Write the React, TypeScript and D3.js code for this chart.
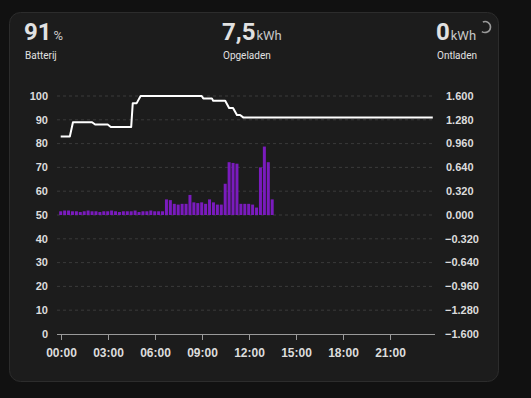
import React from 'react';
import * as d3 from 'd3';

// battery state of charge (%), sampled where the line changes
const socTimes = ['00:00', '00:35', '00:47', '02:00', '02:12', '03:00', '03:12', '04:30', '04:36', '04:51', '05:06', '09:00', '09:06', '09:39', '09:44', '10:30', '10:45', '11:00', '11:15', '11:27', '11:39', '23:45'];
const socValues = [83, 83, 89, 89, 88, 88, 87, 87, 97, 97, 100, 100, 99, 99, 98, 98, 95, 95, 92, 92, 91, 91];

// charged energy per 15 minutes (kWh), starting at 00:00
const energyValues = [
  0.05, 0.06, 0.06, 0.05, 0.05, 0.04, 0.05, 0.06, 0.05, 0.05, 0.04, 0.05, 0.05, 0.06,
  0.05, 0.04, 0.05, 0.05, 0.05, 0.06, 0.04, 0.05, 0.05, 0.06, 0.05, 0.05, 0.05,
  0.21, 0.2, 0.15, 0.14, 0.15, 0.15, 0.27, 0.17, 0.16, 0.17, 0.15, 0.21, 0.17, 0.14, 0.14,
  0.42, 0.71, 0.7, 0.69, 0.15, 0.15, 0.15, 0.14, 0.1, 0.64, 0.92, 0.71, 0.21,
];

const leftTicks = [0, 10, 20, 30, 40, 50, 60, 70, 80, 90, 100];
const rightTicks = [-1.6, -1.28, -0.96, -0.64, -0.32, 0, 0.32, 0.64, 0.96, 1.28, 1.6];
const hourTicks = [0, 3, 6, 9, 12, 15, 18, 21];

const toHours = (t: string) => {
  const [h, m] = t.split(':').map(Number);
  return h + m / 60;
};

const font = '"Liberation Sans", Arial, sans-serif';
const headFont = 'Roboto, "Noto Sans", sans-serif';
const labelColor = '#dcdcdc';

export default function App() {
  const W = 531, H = 398;
  const top = 96, bottom = 334;
  const x = d3.scaleLinear().domain([0, 24]).range([60.7, 436.7]);
  const yL = d3.scaleLinear().domain([0, 100]).range([bottom, top]);
  const yR = d3.scaleLinear().domain([-1.6, 1.6]).range([bottom, top]);

  const socPts: [number, number][] = socTimes.map((t, i) => [toHours(t), socValues[i]]);
  const line = d3.line<[number, number]>()
    .x(d => x(d[0]))
    .y(d => yL(d[1]));

  const barW = 3;
  const fmtR = d3.format('.3f');

  const arc = d3.arc()({ innerRadius: 5.5, outerRadius: 5.5, startAngle: -0.4, endAngle: Math.PI + 0.6 } as any) || '';

  return (
    <div style={{ position: 'fixed', left: 0, top: 0 }}>
      <svg width={W} height={H} style={{ display: 'block' }}>
        <rect width={W} height={H} fill="#111111" />
        <rect x={9.5} y={12.5} width={489} height={369} rx={11} fill="#1c1c1c" stroke="#2c2c2c" />

        {/* header */}
        <g fontFamily={headFont}>
          <text x={24} y={40} fill="#e1e1e1" fontSize={24} fontWeight={700}>91<tspan fontSize={13} fontWeight={400} fill="#c8c8c8" dx={2}>%</tspan></text>
          <text x={25} y={59} fill="#e1e1e1" fontSize={10}>Batterij</text>
          <text x={222} y={40} fill="#e1e1e1" fontSize={24} fontWeight={700}>7,5<tspan fontSize={13} fontWeight={400} fill="#c8c8c8" dx={1}>kWh</tspan></text>
          <text x={223} y={59} fill="#e1e1e1" fontSize={10}>Opgeladen</text>
          <text x={436} y={40} fill="#e1e1e1" fontSize={24} fontWeight={700}>0<tspan fontSize={13} fontWeight={400} fill="#c8c8c8" dx={1}>kWh</tspan></text>
          <text x={437} y={59} fill="#e1e1e1" fontSize={10}>Ontladen</text>
          <path d={arc} transform="translate(485,27)" fill="none" stroke="#9a9a9a" strokeWidth={1.6} />
        </g>

        {/* grid */}
        {leftTicks.filter(t => t > 0).map(t => (
          <line key={t} x1={57} x2={433} y1={yL(t)} y2={yL(t)} stroke="#3a3a3a" strokeDasharray="3,3" />
        ))}

        {/* bars */}
        {energyValues.map((v, i) => {
          const cx = x(i * 0.25);
          const y0 = yR(0), y1 = yR(v);
          return <rect key={i} x={cx - barW / 2} y={Math.min(y0, y1)} width={barW} height={Math.abs(y0 - y1)} fill="#7a1bbd" />;
        })}

        {/* battery line */}
        <path d={line(socPts) || ''} fill="none" stroke="#ffffff" strokeWidth={2} strokeLinejoin="round" />

        {/* x axis */}
        <line x1={57} x2={435} y1={bottom + 0.5} y2={bottom + 0.5} stroke="#9a9a9a" strokeWidth={1} />
        {hourTicks.map(h => (
          <g key={h} transform={`translate(${Math.round(x(h)) + 0.5},0)`}>
            <line y1={bottom} y2={bottom + 6} stroke="#9a9a9a" />
            <text y={357} textAnchor="middle" fill={labelColor} fontSize={12} fontWeight={700} fontFamily={font}>
              {d3.timeFormat('%H:%M')(new Date(2024, 0, 1, h))}
            </text>
          </g>
        ))}

        {/* left axis */}
        {leftTicks.map(t => (
          <text key={t} x={48} y={yL(t)} dy="0.35em" textAnchor="end" fill={labelColor} fontSize={11} fontWeight={700} fontFamily={font}>{t}</text>
        ))}

        {/* right axis */}
        {rightTicks.map(t => (
          <text key={t} x={t < 0 ? 445 : 446} y={yR(t)} dy="0.35em" fill={labelColor} fontSize={11} fontWeight={700} fontFamily={font}>{fmtR(t)}</text>
        ))}
      </svg>
    </div>
  );
}
